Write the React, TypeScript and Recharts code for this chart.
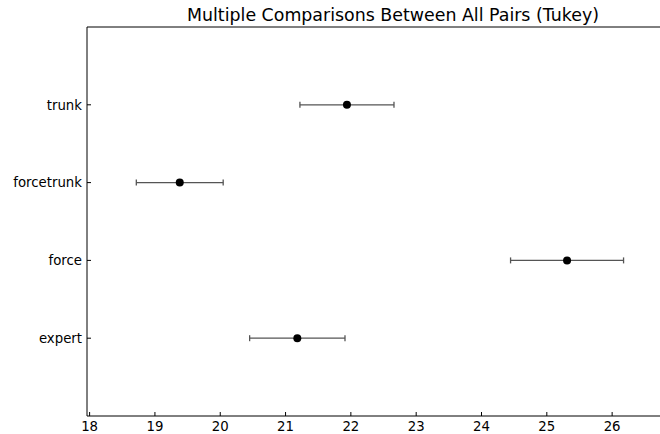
import { ErrorBar, Scatter, ScatterChart, XAxis, YAxis } from "recharts";

const groups = ["expert", "force", "forcetrunk", "trunk"];
const means = [21.18, 25.31, 19.38, 21.94];
const halfWidths = [0.73, 0.865, 0.665, 0.72];
const xTicks = [18, 19, 20, 21, 22, 23, 24, 25, 26];
const yTicks = [0, 1, 2, 3];

const FONT = "'DejaVu Sans', sans-serif";

const data = groups.map((g, i) => ({ pos: i, name: g, mean: means[i], err: halfWidths[i] }));

const Dot = (props: any) => <circle cx={props.cx} cy={props.cy} r={4} fill="#000" />;

export default function App() {
  return (
    <div style={{ position: "fixed", left: 0, top: 0, width: 660, height: 434, overflow: "hidden", background: "#fff" }}>
      <svg width={660} height={30} style={{ position: "absolute", left: 0, top: 0 }}>
        <text x={393} y={20.5} textAnchor="middle" fontFamily={FONT} fontSize={17.4} fill="#000">
          Multiple Comparisons Between All Pairs (Tukey)
        </text>
      </svg>
      <ScatterChart width={720} height={434} margin={{ top: 26, right: 20, bottom: 0, left: 0 }}>
        <XAxis
          type="number"
          dataKey="mean"
          domain={[17.96, 27.33]}
          ticks={xTicks}
          allowDataOverflow
          height={18}
          tickSize={-4}
          tickMargin={10}
          axisLine={{ stroke: "#000" }}
          tickLine={{ stroke: "#000" }}
          tick={{ fill: "#000", fontSize: 13.3, fontFamily: FONT }}
        />
        <XAxis
          xAxisId="top"
          orientation="top"
          type="number"
          domain={[17.96, 27.33]}
          ticks={xTicks}
          allowDataOverflow
          height={1}
          tickSize={-4}
          tickFormatter={() => ""}
          axisLine={{ stroke: "#000" }}
          tickLine={{ stroke: "#000" }}
        />
        <YAxis
          type="number"
          dataKey="pos"
          domain={[-1, 4]}
          ticks={yTicks}
          allowDataOverflow
          width={87}
          tickSize={-4}
          tickMargin={9}
          tickFormatter={(v: number) => groups[v] ?? ""}
          axisLine={{ stroke: "#000" }}
          tickLine={{ stroke: "#000" }}
          tick={{ fill: "#000", fontSize: 13.3, fontFamily: FONT }}
        />
        <YAxis
          yAxisId="right"
          orientation="right"
          type="number"
          domain={[-1, 4]}
          ticks={yTicks}
          allowDataOverflow
          width={1}
          tickSize={-4}
          tickFormatter={() => ""}
          axisLine={{ stroke: "#000" }}
          tickLine={{ stroke: "#000" }}
        />
        <Scatter data={data} shape={Dot} isAnimationActive={false}>
          <ErrorBar dataKey="err" direction="x" width={3} stroke="#555" strokeWidth={1.3} isAnimationActive={false} />
        </Scatter>
      </ScatterChart>
    </div>
  );
}
